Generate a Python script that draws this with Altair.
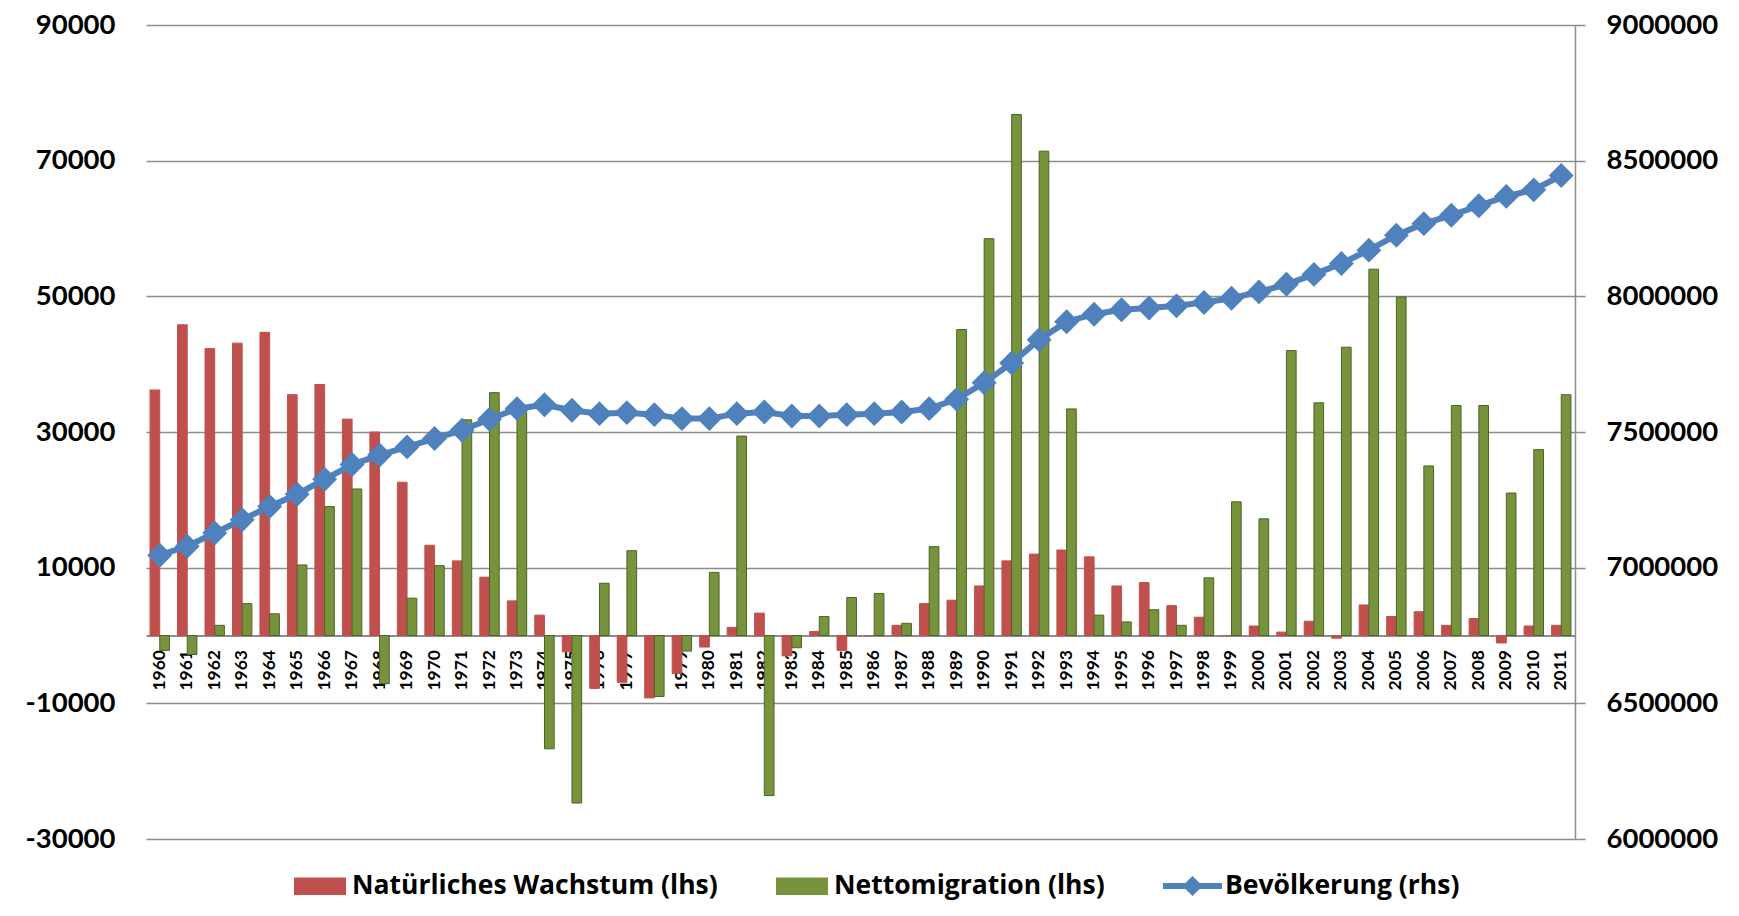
import altair as alt
import pandas as pd

# ---------------- data ----------------
years = [str(y) for y in range(1960, 2012)]

natural = [36200, 45800, 42300, 43100, 44700, 35500, 37000, 31900, 30000, 22600,
           13300, 11000, 8600, 5100, 3000, -2400, -7800, -6900, -9200, -5600,
           -1700, 1200, 3300, -3000, 600, -2200, 0, 1500, 4700, 5200,
           7300, 11000, 12000, 12600, 11600, 7300, 7800, 4400, 2700, 0,
           1400, 500, 2100, -400, 4500, 2800, 3500, 1500, 2500, -1100,
           1400, 1500]

migration = [-2200, -2800, 1500, 4700, 3200, 10400, 19000, 21600, -7100, 5500,
             10300, 31800, 35800, 33000, -16700, -24700, 7700, 12500, -9000, -2300,
             9300, 29400, -23600, -1800, 2800, 5600, 6200, 1800, 13100, 45100,
             58500, 76800, 71400, 33400, 3000, 2000, 3800, 1500, 8500, 19700,
             17200, 42000, 34300, 42500, 54000, 49900, 25000, 33900, 33900, 21000,
             27400, 35500]

population = [7046000, 7079000, 7127700, 7176800, 7225600, 7270700, 7325700, 7380000, 7415000, 7445000,
              7476000, 7506700, 7547000, 7586000, 7600600, 7580000, 7567600, 7571300, 7564000, 7549300,
              7549300, 7567600, 7573800, 7559200, 7559200, 7564000, 7567600, 7573800, 7586000, 7620400,
              7681300, 7754500, 7840000, 7906400, 7934200, 7950300, 7957000, 7965000, 7977000, 7992900,
              8016300, 8044300, 8080900, 8121200, 8170300, 8225300, 8267800, 8298600, 8333800, 8368300,
              8392500, 8445200]

S1 = "Natürliches Wachstum (lhs)"
S2 = "Nettomigration (lhs)"
S3 = "Bevölkerung (rhs)"

left_ticks = [-30000, -10000, 10000, 30000, 50000, 70000, 90000]
right_ticks = [6000000, 6500000, 7000000, 7500000, 8000000, 8500000, 9000000]

# ---------------- styling ----------------
RED = "#C0504D"
GREEN = "#77933C"
GREEN_DARK = "#4F6228"
BLUE = "#4F81BD"
GRID = "#8C8C8C"
FONT = "Lato"
LEGEND_FONT = "Open Sans"
LEGEND_SIZE = 26.5

W, H = 1429, 814

bars_df = pd.DataFrame({
    "Jahr": years * 2,
    "Serie": [S1] * len(years) + [S2] * len(years),
    "Wert": natural + migration,
})
pop_df = pd.DataFrame({
    "Jahr": years,
    "Serie": [S3] * len(years),
    "Wert": population,
})

x_enc = alt.X(
    "Jahr:N",
    sort=years,
    title=None,
    scale=alt.Scale(paddingInner=0.294, paddingOuter=0.147),
    axis=alt.Axis(
        labelAngle=270,
        labelFont=FONT,
        labelFontSize=17.5,
        labelFontWeight="bold",
        labelColor="#000000",
        labelPadding=14,
        ticks=False,
        tickSize=0,
        domain=True,
        domainColor=GRID,
        domainWidth=2,
        grid=False,
        offset=-(H * 30000 / 120000),
    ),
)

rect_path = "M-1,-0.34 L1,-0.34 L1,0.34 L-1,0.34 Z"
line_diamond_path = ("M-1,-0.1 L-0.24,-0.1 L0,-0.34 L0.24,-0.1 L1,-0.1 L1,0.1 "
                     "L0.24,0.1 L0,0.34 L-0.24,0.1 L-1,0.1 Z")

bars = alt.Chart(bars_df).mark_bar().encode(
    x=x_enc,
    xOffset=alt.XOffset("Serie:N", scale=alt.Scale(domain=[S1, S2])),
    y=alt.Y(
        "Wert:Q",
        title=None,
        scale=alt.Scale(domain=[-30000, 90000], nice=False, zero=False),
        axis=alt.Axis(
            orient="left",
            values=left_ticks,
            labelExpr="'' + datum.value",
            labelFont=FONT,
            labelFontSize=27.5,
            labelFontWeight="bold",
            labelColor="#000000",
            labelPadding=31,
            ticks=False,
            tickSize=0,
            domain=False,
            grid=True,
            gridColor=GRID,
            gridWidth=1.5,
        ),
    ),
    color=alt.Color(
        "Serie:N",
        title=None,
        scale=alt.Scale(domain=[S1, S2], range=[RED, GREEN]),
        legend=alt.Legend(
            orient="none",
            legendX=148,
            legendY=835,
            direction="horizontal",
            symbolType=rect_path,
            symbolSize=2704,
            symbolStrokeWidth=0,
            labelFont=LEGEND_FONT,
            labelFontSize=LEGEND_SIZE,
            labelFontWeight="bold",
            labelColor="#000000",
            labelOffset=6,
            labelLimit=1000,
            columnPadding=58,
        ),
    ),
    stroke=alt.Stroke(
        "Serie:N",
        scale=alt.Scale(domain=[S1, S2], range=[RED, GREEN_DARK]),
        legend=None,
    ),
    strokeWidth=alt.value(1),
)

y_right = alt.Y(
    "Wert:Q",
    title=None,
    scale=alt.Scale(domain=[6000000, 9000000], nice=False, zero=False),
    axis=alt.Axis(
        orient="right",
        values=right_ticks,
        labelExpr="'' + datum.value",
        labelFont=FONT,
        labelFontSize=27.5,
        labelFontWeight="bold",
        labelColor="#000000",
        labelPadding=21,
        ticks=True,
        tickSize=10,
        tickColor=GRID,
        tickWidth=1.5,
        domain=True,
        domainColor=GRID,
        domainWidth=1.5,
        grid=False,
    ),
)

line = alt.Chart(pop_df).mark_line(color=BLUE, strokeWidth=6).encode(
    x=alt.X("Jahr:N", sort=years),
    y=y_right,
)

points = alt.Chart(pop_df).mark_point(
    filled=True, shape="diamond", size=620, opacity=1
).encode(
    x=alt.X("Jahr:N", sort=years),
    y=y_right,
    color=alt.Color(
        "Serie:N",
        title=None,
        scale=alt.Scale(domain=[S3], range=[BLUE]),
        legend=alt.Legend(
            orient="none",
            legendX=1017,
            legendY=831.5,
            symbolType=line_diamond_path,
            symbolSize=3481,
            symbolOpacity=1,
            symbolStrokeWidth=0,
            labelFont=LEGEND_FONT,
            labelFontSize=LEGEND_SIZE,
            labelFontWeight="bold",
            labelColor="#000000",
            labelOffset=3,
            labelLimit=1000,
        ),
    ),
)

chart = (
    alt.layer(bars, alt.layer(line, points))
    .resolve_scale(y="independent", color="independent", stroke="independent")
    .properties(
        width=W,
        height=H,
        autosize=alt.AutoSizeParams(type="none"),
        padding={"left": 138, "top": 17, "right": 150, "bottom": 66},
        background="#FFFFFF",
    )
    .configure_view(stroke=None)
)

chart.save("out.html", embed_options={"renderer": "svg", "actions": False})
